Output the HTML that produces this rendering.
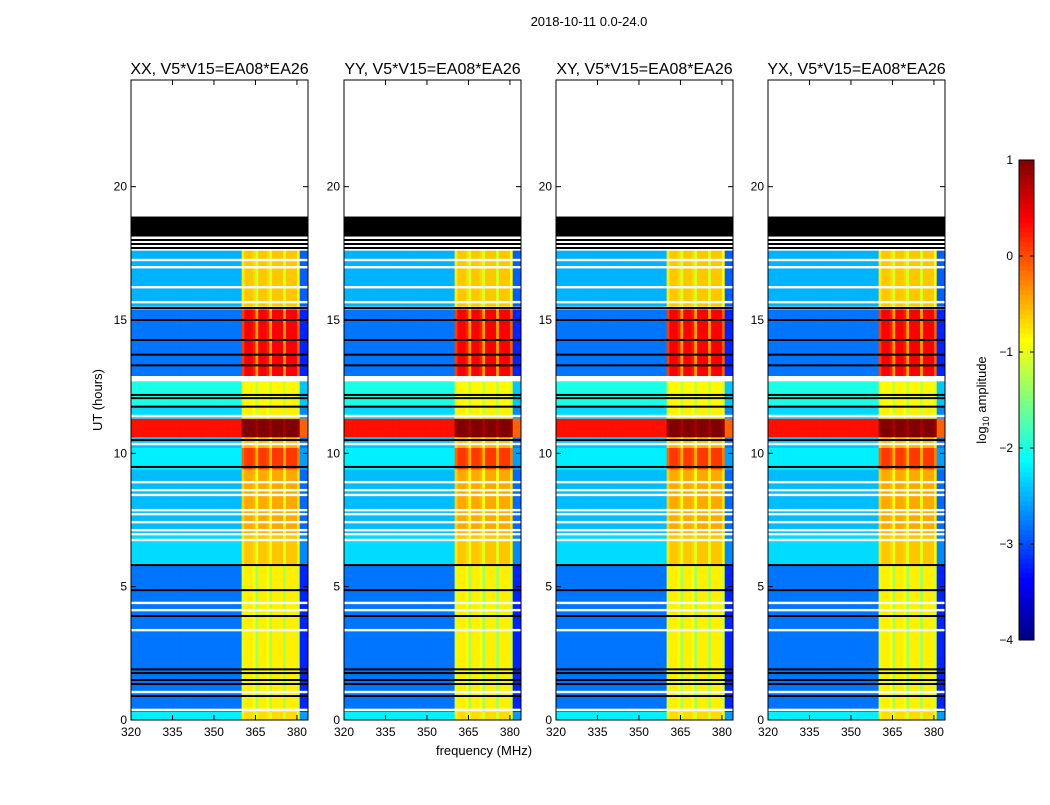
<!DOCTYPE html>
<html><head><meta charset="utf-8">
<style>
body{margin:0;background:#fff;}
svg text{font-family:"Liberation Sans","DejaVu Sans",sans-serif;}
</style></head>
<body>
<svg id="fig" width="1050" height="800" xmlns="http://www.w3.org/2000/svg">
<rect width="1050" height="800" fill="#fff"/>
<text x="589" y="26" font-size="13" text-anchor="middle">2018-10-11 0.0-24.0</text>
<text x="102" y="400" font-size="13" text-anchor="middle" transform="rotate(-90 102 400)">UT (hours)</text>
<text x="484" y="755" font-size="13" text-anchor="middle">frequency (MHz)</text>
<g id="panels"></g>
<g id="cbar"></g>
<text x="986" y="400" font-size="13" text-anchor="middle" transform="rotate(-90 986 400)">log<tspan font-size="9" dy="3">10</tspan><tspan dy="-3"> amplitude</tspan></text>
</svg>
<script>
// ---- data ----
const panelTitles = ["XX, V5*V15=EA08*EA26","YY, V5*V15=EA08*EA26","XY, V5*V15=EA08*EA26","YX, V5*V15=EA08*EA26"];
const channelFreqs = []; for (let f = 320; f < 384; f++) channelFreqs.push(f);
// RFI weight per channel (0 = background, 1 = full RFI), 320..383
const rfiMask = [0,0,0,0,0,0,0,0,0,0, 0,0,0,0,0,0,0,0,0,0, 0,0,0,0,0,0,0,0,0,0, 0,0,0,0,0,0,0,0,0,0,
  0.9,1,1,1,0.95,0.75, 1,1,1,0.95,0.75, 1,1,1,1,0.75, 1,1,1,1,0.85, 0,0,0];
// background offset per channel
const bgOffset = [0,0,0,0,0,0,0,0,0,0, 0,0,0,0,0,0,0,0,0,0, 0,0,0,0,0,0,0,0,0,0, 0,0,0,0,0,0,0,0,0,0,
  0,0,0,0,0,0,0,0,0,0,0,0,0,0,0,0,0,0,0,0,0,-0.4,-0.4,-0.4];
// time bands: start hour, end hour, background log amp, RFI log amp
const bandStart = [0, 0.3, 5.8, 7.0, 9.4, 10.2, 10.6, 11.3, 11.8, 12.9, 15.5];
const bandEnd   = [0.3, 5.8, 7.0, 9.4, 10.2, 10.6, 11.3, 11.8, 12.7, 15.4, 17.6];
const bandBg    = [-2.2, -2.8, -2.3, -2.45, -2.2, -2.4, 0.3, -2.3, -2.0, -2.8, -2.5];
const bandRfi   = [-0.7, -0.8, -0.6, -0.45, 0.1, -0.5, 1.0, -0.8, -0.85, 0.4, -0.6];
// flagged rows
const whiteLines = [17.25,16.98,16.23,15.67,11.4,10.35,8.92,8.62,8.44,7.87,7.72,7.42,7.12,6.97,6.75,4.39,4.12,3.37,1.05,0.38];
const blackLines = [17.7,17.85,18.0,15.45,15.0,14.25,13.7,13.3,12.19,12.07,11.75,10.5,9.49,5.81,4.87,3.9,1.9,1.76,1.5,1.35,0.9];
const blackBlock = [18.13, 18.88];
const xTicks = [320,335,350,365,380];
const yTicks = [0,5,10,15,20];
const cbTicks = [1,0,-1,-2,-3,-4];
const panelX = [131, 344, 556, 768];

// ---- helpers ----
const NS = "http://www.w3.org/2000/svg";
function mk(tag, attrs, parent){const e=document.createElementNS(NS,tag);for(const k in attrs)e.setAttribute(k,attrs[k]);parent.appendChild(e);return e;}
function jet(v){
  const c=x=>Math.max(0,Math.min(1,x));
  const r=c(1.5-Math.abs(4*v-3)), g=c(1.5-Math.abs(4*v-2)), b=c(1.5-Math.abs(4*v-1));
  return `rgb(${Math.round(r*255)},${Math.round(g*255)},${Math.round(b*255)})`;
}
const vmin=-4, vmax=1;
const PW=177, Y0=720, Y1=80;
const yOf = h => Y0 - h*(Y0-Y1)/24;
const xOf = (px,f) => px + (f-320)*PW/64;

const panels = document.getElementById('panels');
panelX.forEach((px, pi) => {
  const g = mk('g', {}, panels);
  
  
  for (let b = 0; b < bandStart.length; b++) {
    for (let c = 0; c < channelFreqs.length; c++) {
      const bg = bandBg[b] + bgOffset[c];
      const v = bg + rfiMask[c]*(bandRfi[b]-bg);
      const x0 = xOf(px, channelFreqs[c]), x1 = xOf(px, channelFreqs[c]+1);
      const r = mk('rect', {x:x0, y:yOf(bandEnd[b]), width:x1-x0+0.4, height:yOf(bandStart[b])-yOf(bandEnd[b]), fill:jet((v-vmin)/(vmax-vmin))}, g);
      
      
    }
  }
  whiteLines.forEach(h => {
    const r = mk('rect', {x:px, y:yOf(h)-1.2, width:PW, height:2.4, fill:'#fff'}, g);
    
    
  });
  blackLines.forEach(h => {
    const r = mk('rect', {x:px, y:yOf(h)-1, width:PW, height:2, fill:'#000'}, g);
    
    
  });
  const bb = mk('rect', {x:px, y:yOf(blackBlock[1]), width:PW, height:yOf(blackBlock[0])-yOf(blackBlock[1]), fill:'#000'}, g);
  
  
  const fr = mk('rect', {x:px, y:Y1, width:PW, height:Y0-Y1, fill:'none', stroke:'#000', 'stroke-width':1}, g);
  
  
  const t = mk('text', {x:px+PW/2, y:74, 'font-size':16, 'text-anchor':'middle'}, g);
  t.textContent = panelTitles[pi];
  
  
  yTicks.forEach(v => {
    const y = yOf(v);
    mk('line', {x1:px, x2:px+5, y1:y, y2:y, stroke:'#000'}, g);
    mk('line', {x1:px+PW-5, x2:px+PW, y1:y, y2:y, stroke:'#000'}, g);
    const tl = mk('text', {x:px-4, y:y+4, 'font-size':12, 'text-anchor':'end'}, g);
    tl.textContent = v;
    
    
  });
  xTicks.forEach(v => {
    const x = xOf(px, v);
    mk('line', {x1:x, x2:x, y1:Y0, y2:Y0-5, stroke:'#000'}, g);
    mk('line', {x1:x, x2:x, y1:Y1, y2:Y1+5, stroke:'#000'}, g);
    const tl = mk('text', {x:x, y:Y0+16, 'font-size':12, 'text-anchor':'middle'}, g);
    tl.textContent = v;
    
    
  });
});

const cb = document.getElementById('cbar');
const CX=1019, CW=15, CY0=640, CY1=160, N=100;
for (let i = 0; i < N; i++) {
  const y = CY0 - (i+1)*(CY0-CY1)/N;
  mk('rect', {x:CX, y:y, width:CW, height:(CY0-CY1)/N+0.5, fill:jet((i+0.5)/N)}, cb);
}
mk('rect', {x:CX, y:CY1, width:CW, height:CY0-CY1, fill:'none', stroke:'#000'}, cb);
cbTicks.forEach(v => {
  const y = CY0 - (v-vmin)/(vmax-vmin)*(CY0-CY1);
  mk('line', {x1:CX, x2:CX+4, y1:y, y2:y, stroke:'#000'}, cb);
  mk('line', {x1:CX+CW-4, x2:CX+CW, y1:y, y2:y, stroke:'#000'}, cb);
  const tl = mk('text', {x:CX-6, y:y+4, 'font-size':12, 'text-anchor':'end'}, cb);
  tl.textContent = v < 0 ? '\u2212' + Math.abs(v) : String(v);
  
  
});
</script>
</body></html>
